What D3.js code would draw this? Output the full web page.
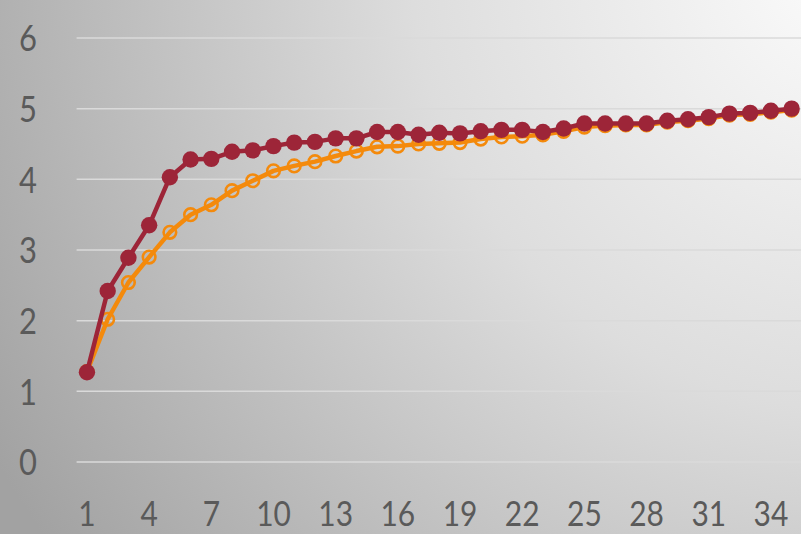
<!DOCTYPE html>
<html>
<head>
<meta charset="utf-8">
<script src="https://cdn.jsdelivr.net/npm/d3@7"></script>
<style>
  html, body { margin: 0; padding: 0; background: #fff; }
  svg { display: block; }
  .tick text { font-family: Lato, "Open Sans", sans-serif; fill: #5a5a5a; }
</style>
</head>
<body>
<svg id="chart" width="801" height="534"></svg>
<script>
// Category positions 1..35
const categories = d3.range(1, 36);
// Dark red series (filled markers)
const seriesRed = [1.27, 2.42, 2.89, 3.35, 4.03, 4.28, 4.29, 4.39, 4.41, 4.47,
                   4.52, 4.53, 4.58, 4.58, 4.67, 4.67, 4.63, 4.66, 4.65, 4.68,
                   4.70, 4.70, 4.67, 4.72, 4.79, 4.79, 4.79, 4.79, 4.83, 4.85,
                   4.88, 4.93, 4.94, 4.97, 5.00];
// Orange series (open markers)
const seriesOrange = [1.28, 2.02, 2.54, 2.90, 3.25, 3.50, 3.64, 3.84, 3.98, 4.12,
                      4.19, 4.25, 4.33, 4.40, 4.46, 4.47, 4.50, 4.51, 4.52, 4.57,
                      4.60, 4.61, 4.63, 4.68, 4.74, 4.76, 4.77, 4.77, 4.81, 4.83,
                      4.86, 4.91, 4.92, 4.95, 4.98];
const xTickLabels = [1, 4, 7, 10, 13, 16, 19, 22, 25, 28, 31, 34];
const yTickLabels = [0, 1, 2, 3, 4, 5, 6];

const W = 801, H = 534;
const svg = d3.select("#chart");

// Background: soft gray gradient, lightest toward the upper right
const defs = svg.append("defs");
const grad = defs.append("radialGradient")
  .attr("id", "bg").attr("gradientUnits", "userSpaceOnUse")
  .attr("cx", W + 60).attr("cy", -40).attr("r", 1000);
grad.append("stop").attr("offset", "0%").attr("stop-color", "#fdfdfd");
grad.append("stop").attr("offset", "45%").attr("stop-color", "#dddddd");
grad.append("stop").attr("offset", "100%").attr("stop-color", "#a2a2a2");
svg.append("rect").attr("width", W).attr("height", H).attr("fill", "url(#bg)");

const x = d3.scaleBand().domain(categories).range([76.6, 802]).padding(0);
const xc = d => x(d) + x.bandwidth() / 2;
const y = d3.scaleLinear().domain([0, 6]).range([462, 38]);

// Horizontal gridlines
svg.append("g").selectAll("line").data(yTickLabels).join("line")
  .attr("x1", 76.6).attr("x2", 802)
  .attr("y1", d => y(d)).attr("y2", d => y(d))
  .attr("stroke", "#dadada").attr("stroke-width", 1.5);

// Y axis labels
const yAxis = svg.append("g").attr("transform", "translate(37,0)")
  .call(d3.axisLeft(y).tickValues(yTickLabels).tickSize(0).tickPadding(0).tickFormat(d3.format("d")));
yAxis.select(".domain").remove();
yAxis.selectAll(".tick text")
  .attr("font-size", 36).attr("text-anchor", "end").attr("dy", "0.36em")
  .attr("transform", "scale(0.86,1)");

// X axis labels
const xAxis = svg.append("g").attr("transform", "translate(0,526)")
  .call(d3.axisBottom(x).tickValues(xTickLabels).tickSize(0).tickPadding(0));
xAxis.select(".domain").remove();
xAxis.selectAll(".tick text")
  .attr("font-size", 34).attr("y", 0).attr("dy", 0)
  .attr("transform", "scale(0.88,1)");

const line = d3.line().x((d, i) => xc(categories[i])).y(d => y(d));

// Orange series: line with hollow circle markers
svg.append("path").datum(seriesOrange)
  .attr("d", line).attr("fill", "none")
  .attr("stroke", "#f48a0c").attr("stroke-width", 4.5)
  .attr("stroke-linejoin", "round").attr("stroke-linecap", "round");
svg.append("g").selectAll("circle").data(seriesOrange).join("circle")
  .attr("cx", (d, i) => xc(categories[i])).attr("cy", d => y(d))
  .attr("r", 6.3).attr("fill", "none")
  .attr("stroke", "#f48a0c").attr("stroke-width", 2.6);

// Dark red series: line with filled circle markers
svg.append("path").datum(seriesRed)
  .attr("d", line).attr("fill", "none")
  .attr("stroke", "#9d2538").attr("stroke-width", 4.5)
  .attr("stroke-linejoin", "round").attr("stroke-linecap", "round");
svg.append("g").selectAll("circle").data(seriesRed).join("circle")
  .attr("cx", (d, i) => xc(categories[i])).attr("cy", d => y(d))
  .attr("r", 8.2).attr("fill", "#9d2538");
</script>
</body>
</html>
